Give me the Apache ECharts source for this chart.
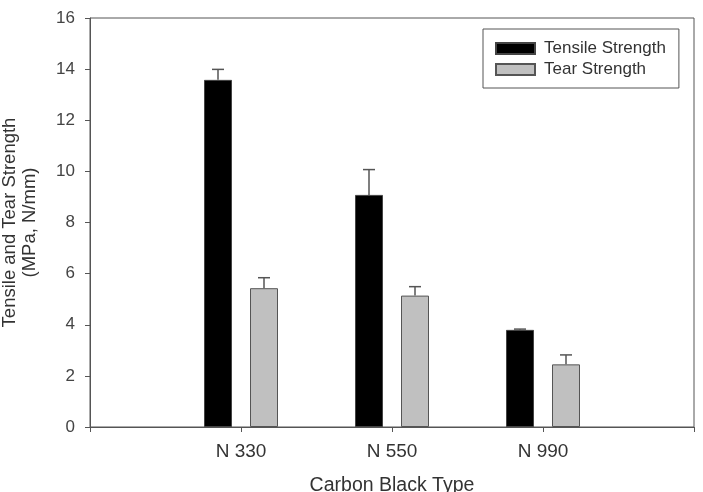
<!DOCTYPE html>
<html>

<head>
    <meta charset="utf-8">
    <title>Carbon Black Strength</title>
    <script src="https://cdn.jsdelivr.net/npm/echarts@6/dist/echarts.min.js"></script>
    <style>
        html, body { margin: 0; padding: 0; background: #fff; }
        .chart { width: 703px; height: 492px; }
    </style>
</head>

<body>
    <div id="main" class="chart"></div>

    <script type="text/javascript">
        // data
        var categories = ['N 330', 'N 550', 'N 990'];
        var tensile = [13.58, 9.08, 3.80];
        var tensileErr = [0.41, 0.99, 0.03];
        var tear = [5.43, 5.14, 2.45];
        var tearErr = [0.41, 0.35, 0.37];
        var yTicks = [0, 2, 4, 6, 8, 10, 12, 14, 16];

        // pad the axis so the groups sit at 1/4, 2/4, 3/4 of the width
        var axisCats = [''].concat(categories, ['']);
        function pad(arr) { return ['-'].concat(arr, ['-']); }

        var barW = 28, gapPx = 18;
        var shift = (barW + gapPx) / 2;

        function errData(vals, errs) {
            var out = [];
            for (var i = 0; i < vals.length; i++) {
                out.push([i + 1, vals[i], errs[i]]);
            }
            return out;
        }

        function errRender(offset) {
            return function (params, api) {
                var idx = api.value(0);
                var base = api.coord([idx, api.value(1)]);
                var top = api.coord([idx, api.value(1) + api.value(2)]);
                var x = base[0] + offset;
                var st = { stroke: '#555', lineWidth: 1.5 };
                return {
                    type: 'group',
                    children: [
                        { type: 'line', shape: { x1: x, y1: base[1], x2: x, y2: top[1] }, style: st },
                        { type: 'line', shape: { x1: x - 6, y1: top[1], x2: x + 6, y2: top[1] }, style: st }
                    ]
                };
            };
        }

        var myChart = echarts.init(document.getElementById('main'));

        var option = {
            animation: false,
            textStyle: { fontFamily: 'Liberation Sans, Arial, sans-serif' },
            grid: {
                left: 90, right: 9, top: 18, bottom: 65,
                containLabel: false,
                outerBoundsMode: 'none',
                show: true, borderColor: '#555', borderWidth: 1
            },
            legend: {
                orient: 'vertical',
                left: 483, top: 29,
                padding: [11, 13, 10, 12],
                itemGap: 4,
                icon: 'rect',
                itemWidth: 39, itemHeight: 11,
                borderColor: '#555', borderWidth: 1,
                textStyle: { fontSize: 17, color: '#333', padding: [0, 0, 0, 4] },
                data: ['Tensile Strength', 'Tear Strength']
            },
            xAxis: {
                type: 'category',
                data: axisCats,
                boundaryGap: false,
                name: 'Carbon Black Type',
                nameLocation: 'middle',
                nameGap: 49,
                nameTextStyle: { fontSize: 19.5, color: '#333' },
                axisLine: { lineStyle: { color: '#555', width: 1 } },
                axisTick: { show: true, length: 5, lineStyle: { color: '#555' } },
                axisLabel: { fontSize: 19, color: '#333', margin: 15 },
                splitLine: { show: false }
            },
            yAxis: {
                type: 'value',
                min: yTicks[0],
                max: yTicks[yTicks.length - 1],
                interval: 2,
                name: 'Tensile and Tear Strength\n(MPa, N/mm)',
                nameLocation: 'middle',
                nameGap: 50,
                nameTextStyle: { fontSize: 18.5, color: '#333', lineHeight: 20 },
                axisLine: { show: true, lineStyle: { color: '#555', width: 1 } },
                axisTick: { show: true, length: 5, lineStyle: { color: '#555' } },
                axisLabel: { fontSize: 17, color: '#444', margin: 15 },
                splitLine: { show: false }
            },
            series: [
                {
                    name: 'Tensile Strength',
                    type: 'bar',
                    barWidth: barW,
                    barGap: (gapPx / barW * 100) + '%',
                    data: pad(tensile),
                    itemStyle: { color: '#000', borderColor: '#444', borderWidth: 1 }
                },
                {
                    name: 'Tear Strength',
                    type: 'bar',
                    barWidth: barW,
                    data: pad(tear),
                    itemStyle: { color: '#c0c0c0', borderColor: '#555', borderWidth: 1 }
                },
                {
                    type: 'custom',
                    z: 5,
                    renderItem: errRender(-shift),
                    encode: { x: 0, y: 1 },
                    data: errData(tensile, tensileErr)
                },
                {
                    type: 'custom',
                    z: 5,
                    renderItem: errRender(shift),
                    encode: { x: 0, y: 1 },
                    data: errData(tear, tearErr)
                }
            ]
        };

        myChart.setOption(option);
    </script>
</body>

</html>
